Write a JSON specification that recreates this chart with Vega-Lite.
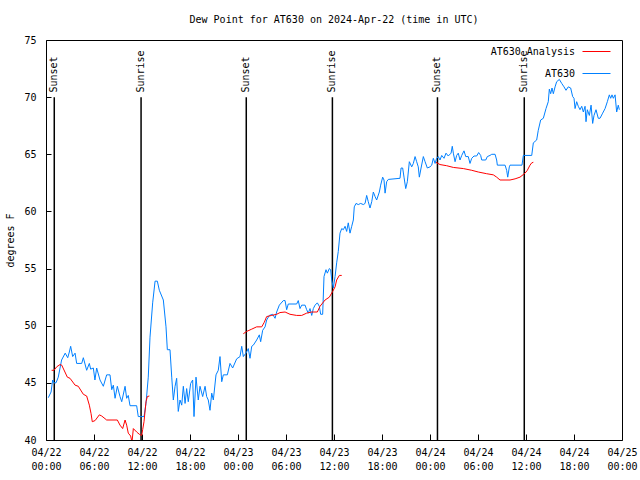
{
  "$schema": "https://vega.github.io/schema/vega-lite/v6.json",
  "width": 576,
  "height": 400,
  "autosize": "none",
  "padding": {"left": 46, "top": 40, "right": 18, "bottom": 40},
  "background": "white",
  "title": {"text": "Dew Point for AT630 on 2024-Apr-22 (time in UTC)", "fontSize": 10, "font": "DejaVu Sans Mono", "fontWeight": "normal", "frame": "group", "offset": 10, "color": "black"},
  "config": {
    "font": "DejaVu Sans Mono",
    "view": {"stroke": "black", "strokeWidth": 1},
    "axis": {"labelFont": "DejaVu Sans Mono", "labelFontSize": 10, "labelColor": "black", "titleFont": "DejaVu Sans Mono", "titleFontSize": 10, "titleFontWeight": "normal", "titleColor": "black", "domain": false, "grid": false, "tickColor": "black", "tickWidth": 1}
  },
  "datasets": {
    "obs": [
      {"s":"AT630","g":"b","t":"2024-04-22T00:17:00Z","v":43.7},
      {"s":"AT630","g":"b","t":"2024-04-22T00:38:00Z","v":44.2},
      {"s":"AT630","g":"b","t":"2024-04-22T00:50:00Z","v":45.25},
      {"s":"AT630","g":"b","t":"2024-04-22T01:00:00Z","v":45.0},
      {"s":"AT630","g":"b","t":"2024-04-22T01:15:00Z","v":45.0},
      {"s":"AT630","g":"b","t":"2024-04-22T01:32:00Z","v":45.5},
      {"s":"AT630","g":"b","t":"2024-04-22T01:57:00Z","v":47.0},
      {"s":"AT630","g":"b","t":"2024-04-22T02:24:00Z","v":47.6},
      {"s":"AT630","g":"b","t":"2024-04-22T02:43:00Z","v":47.2},
      {"s":"AT630","g":"b","t":"2024-04-22T02:55:00Z","v":47.7},
      {"s":"AT630","g":"b","t":"2024-04-22T03:05:00Z","v":48.2},
      {"s":"AT630","g":"b","t":"2024-04-22T03:20:00Z","v":47.3},
      {"s":"AT630","g":"b","t":"2024-04-22T03:38:00Z","v":47.6},
      {"s":"AT630","g":"b","t":"2024-04-22T03:50:00Z","v":46.7},
      {"s":"AT630","g":"b","t":"2024-04-22T04:28:00Z","v":46.7},
      {"s":"AT630","g":"b","t":"2024-04-22T04:40:00Z","v":47.2},
      {"s":"AT630","g":"b","t":"2024-04-22T05:05:00Z","v":46.1},
      {"s":"AT630","g":"b","t":"2024-04-22T05:25:00Z","v":46.7},
      {"s":"AT630","g":"b","t":"2024-04-22T05:35:00Z","v":46.2},
      {"s":"AT630","g":"b","t":"2024-04-22T05:55:00Z","v":46.3},
      {"s":"AT630","g":"b","t":"2024-04-22T06:07:00Z","v":45.25},
      {"s":"AT630","g":"b","t":"2024-04-22T06:20:00Z","v":46.3},
      {"s":"AT630","g":"b","t":"2024-04-22T06:45:00Z","v":45.25},
      {"s":"AT630","g":"b","t":"2024-04-22T07:10:00Z","v":44.7},
      {"s":"AT630","g":"b","t":"2024-04-22T07:35:00Z","v":45.7},
      {"s":"AT630","g":"b","t":"2024-04-22T08:00:00Z","v":45.7},
      {"s":"AT630","g":"b","t":"2024-04-22T08:13:00Z","v":44.4},
      {"s":"AT630","g":"b","t":"2024-04-22T08:25:00Z","v":44.8},
      {"s":"AT630","g":"b","t":"2024-04-22T08:38:00Z","v":43.65},
      {"s":"AT630","g":"b","t":"2024-04-22T08:55:00Z","v":44.7},
      {"s":"AT630","g":"b","t":"2024-04-22T09:15:00Z","v":43.8},
      {"s":"AT630","g":"b","t":"2024-04-22T09:28:00Z","v":43.35},
      {"s":"AT630","g":"b","t":"2024-04-22T09:53:00Z","v":44.7},
      {"s":"AT630","g":"b","t":"2024-04-22T10:05:00Z","v":43.65},
      {"s":"AT630","g":"b","t":"2024-04-22T10:17:00Z","v":43.9},
      {"s":"AT630","g":"b","t":"2024-04-22T10:30:00Z","v":43.0},
      {"s":"AT630","g":"b","t":"2024-04-22T11:20:00Z","v":43.0},
      {"s":"AT630","g":"b","t":"2024-04-22T11:32:00Z","v":42.05},
      {"s":"AT630","g":"b","t":"2024-04-22T12:15:00Z","v":42.05},
      {"s":"AT630","g":"b","t":"2024-04-22T12:30:00Z","v":43.2},
      {"s":"AT630","g":"b","t":"2024-04-22T12:47:00Z","v":45.5},
      {"s":"AT630","g":"b","t":"2024-04-22T13:00:00Z","v":49.0},
      {"s":"AT630","g":"b","t":"2024-04-22T13:20:00Z","v":52.0},
      {"s":"AT630","g":"b","t":"2024-04-22T13:38:00Z","v":53.9},
      {"s":"AT630","g":"b","t":"2024-04-22T13:55:00Z","v":53.9},
      {"s":"AT630","g":"b","t":"2024-04-22T14:10:00Z","v":53.1},
      {"s":"AT630","g":"b","t":"2024-04-22T14:40:00Z","v":52.25},
      {"s":"AT630","g":"b","t":"2024-04-22T15:00:00Z","v":49.9},
      {"s":"AT630","g":"b","t":"2024-04-22T15:10:00Z","v":47.9},
      {"s":"AT630","g":"b","t":"2024-04-22T15:30:00Z","v":47.9},
      {"s":"AT630","g":"b","t":"2024-04-22T15:43:00Z","v":45.5},
      {"s":"AT630","g":"b","t":"2024-04-22T15:55:00Z","v":43.5},
      {"s":"AT630","g":"b","t":"2024-04-22T16:08:00Z","v":44.7},
      {"s":"AT630","g":"b","t":"2024-04-22T16:20:00Z","v":45.4},
      {"s":"AT630","g":"b","t":"2024-04-22T16:32:00Z","v":42.5},
      {"s":"AT630","g":"b","t":"2024-04-22T16:45:00Z","v":43.5},
      {"s":"AT630","g":"b","t":"2024-04-22T16:58:00Z","v":43.05},
      {"s":"AT630","g":"b","t":"2024-04-22T17:10:00Z","v":44.7},
      {"s":"AT630","g":"b","t":"2024-04-22T17:23:00Z","v":43.2},
      {"s":"AT630","g":"b","t":"2024-04-22T17:35:00Z","v":44.5},
      {"s":"AT630","g":"b","t":"2024-04-22T17:47:00Z","v":43.35},
      {"s":"AT630","g":"b","t":"2024-04-22T18:05:00Z","v":44.95},
      {"s":"AT630","g":"b","t":"2024-04-22T18:20:00Z","v":45.25},
      {"s":"AT630","g":"b","t":"2024-04-22T18:30:00Z","v":42.05},
      {"s":"AT630","g":"b","t":"2024-04-22T18:45:00Z","v":45.5},
      {"s":"AT630","g":"b","t":"2024-04-22T19:02:00Z","v":43.5},
      {"s":"AT630","g":"b","t":"2024-04-22T19:15:00Z","v":44.7},
      {"s":"AT630","g":"b","t":"2024-04-22T19:35:00Z","v":43.8},
      {"s":"AT630","g":"b","t":"2024-04-22T19:53:00Z","v":44.7},
      {"s":"AT630","g":"b","t":"2024-04-22T20:05:00Z","v":43.8},
      {"s":"AT630","g":"b","t":"2024-04-22T20:17:00Z","v":43.5},
      {"s":"AT630","g":"b","t":"2024-04-22T20:30:00Z","v":42.6},
      {"s":"AT630","g":"b","t":"2024-04-22T20:43:00Z","v":44.1},
      {"s":"AT630","g":"b","t":"2024-04-22T20:55:00Z","v":43.5},
      {"s":"AT630","g":"b","t":"2024-04-22T21:15:00Z","v":45.7},
      {"s":"AT630","g":"b","t":"2024-04-22T21:32:00Z","v":46.1},
      {"s":"AT630","g":"b","t":"2024-04-22T21:45:00Z","v":47.3},
      {"s":"AT630","g":"b","t":"2024-04-22T21:58:00Z","v":45.1},
      {"s":"AT630","g":"b","t":"2024-04-22T22:10:00Z","v":45.7},
      {"s":"AT630","g":"b","t":"2024-04-22T22:40:00Z","v":45.7},
      {"s":"AT630","g":"b","t":"2024-04-22T23:00:00Z","v":46.7},
      {"s":"AT630","g":"b","t":"2024-04-22T23:20:00Z","v":46.3},
      {"s":"AT630","g":"b","t":"2024-04-22T23:50:00Z","v":47.1},
      {"s":"AT630","g":"b","t":"2024-04-23T00:15:00Z","v":47.3},
      {"s":"AT630","g":"b","t":"2024-04-23T00:28:00Z","v":48.2},
      {"s":"AT630","g":"b","t":"2024-04-23T00:40:00Z","v":47.3},
      {"s":"AT630","g":"b","t":"2024-04-23T01:00:00Z","v":47.6},
      {"s":"AT630","g":"b","t":"2024-04-23T01:17:00Z","v":48.0},
      {"s":"AT630","g":"b","t":"2024-04-23T01:30:00Z","v":47.15},
      {"s":"AT630","g":"b","t":"2024-04-23T01:43:00Z","v":48.2},
      {"s":"AT630","g":"b","t":"2024-04-23T01:55:00Z","v":48.3},
      {"s":"AT630","g":"b","t":"2024-04-23T02:20:00Z","v":48.75},
      {"s":"AT630","g":"b","t":"2024-04-23T02:40:00Z","v":49.2},
      {"s":"AT630","g":"b","t":"2024-04-23T02:50:00Z","v":48.6},
      {"s":"AT630","g":"b","t":"2024-04-23T03:05:00Z","v":49.6},
      {"s":"AT630","g":"b","t":"2024-04-23T03:23:00Z","v":49.9},
      {"s":"AT630","g":"b","t":"2024-04-23T03:35:00Z","v":50.5},
      {"s":"AT630","g":"b","t":"2024-04-23T03:55:00Z","v":50.9},
      {"s":"AT630","g":"b","t":"2024-04-23T04:20:00Z","v":51.0},
      {"s":"AT630","g":"b","t":"2024-04-23T04:38:00Z","v":50.65},
      {"s":"AT630","g":"b","t":"2024-04-23T04:50:00Z","v":51.2},
      {"s":"AT630","g":"b","t":"2024-04-23T05:10:00Z","v":51.8},
      {"s":"AT630","g":"b","t":"2024-04-23T05:40:00Z","v":52.2},
      {"s":"AT630","g":"b","t":"2024-04-23T05:53:00Z","v":52.2},
      {"s":"AT630","g":"b","t":"2024-04-23T06:05:00Z","v":51.4},
      {"s":"AT630","g":"b","t":"2024-04-23T06:17:00Z","v":51.9},
      {"s":"AT630","g":"b","t":"2024-04-23T07:20:00Z","v":51.9},
      {"s":"AT630","g":"b","t":"2024-04-23T07:32:00Z","v":52.2},
      {"s":"AT630","g":"b","t":"2024-04-23T07:45:00Z","v":51.5},
      {"s":"AT630","g":"b","t":"2024-04-23T07:58:00Z","v":51.8},
      {"s":"AT630","g":"b","t":"2024-04-23T08:23:00Z","v":51.8},
      {"s":"AT630","g":"b","t":"2024-04-23T08:35:00Z","v":51.4},
      {"s":"AT630","g":"b","t":"2024-04-23T08:47:00Z","v":51.1},
      {"s":"AT630","g":"b","t":"2024-04-23T09:00:00Z","v":51.5},
      {"s":"AT630","g":"b","t":"2024-04-23T09:13:00Z","v":50.9},
      {"s":"AT630","g":"b","t":"2024-04-23T09:25:00Z","v":51.5},
      {"s":"AT630","g":"b","t":"2024-04-23T09:38:00Z","v":51.8},
      {"s":"AT630","g":"b","t":"2024-04-23T09:55:00Z","v":52.0},
      {"s":"AT630","g":"b","t":"2024-04-23T10:10:00Z","v":51.7},
      {"s":"AT630","g":"b","t":"2024-04-23T10:20:00Z","v":51.0},
      {"s":"AT630","g":"b","t":"2024-04-23T10:35:00Z","v":51.0},
      {"s":"AT630","g":"b","t":"2024-04-23T10:45:00Z","v":54.3},
      {"s":"AT630","g":"b","t":"2024-04-23T11:00:00Z","v":54.9},
      {"s":"AT630","g":"b","t":"2024-04-23T11:10:00Z","v":54.6},
      {"s":"AT630","g":"b","t":"2024-04-23T11:25:00Z","v":55.0},
      {"s":"AT630","g":"b","t":"2024-04-23T11:35:00Z","v":54.9},
      {"s":"AT630","g":"b","t":"2024-04-23T11:43:00Z","v":54.0},
      {"s":"AT630","g":"b","t":"2024-04-23T11:55:00Z","v":53.3},
      {"s":"AT630","g":"b","t":"2024-04-23T12:08:00Z","v":54.3},
      {"s":"AT630","g":"b","t":"2024-04-23T12:20:00Z","v":55.5},
      {"s":"AT630","g":"b","t":"2024-04-23T12:32:00Z","v":56.5},
      {"s":"AT630","g":"b","t":"2024-04-23T12:45:00Z","v":58.1},
      {"s":"AT630","g":"b","t":"2024-04-23T12:58:00Z","v":58.5},
      {"s":"AT630","g":"b","t":"2024-04-23T13:10:00Z","v":58.4},
      {"s":"AT630","g":"b","t":"2024-04-23T13:23:00Z","v":58.7},
      {"s":"AT630","g":"b","t":"2024-04-23T13:35:00Z","v":58.25},
      {"s":"AT630","g":"b","t":"2024-04-23T13:47:00Z","v":59.0},
      {"s":"AT630","g":"b","t":"2024-04-23T14:00:00Z","v":58.1},
      {"s":"AT630","g":"b","t":"2024-04-23T14:13:00Z","v":58.7},
      {"s":"AT630","g":"b","t":"2024-04-23T14:25:00Z","v":59.25},
      {"s":"AT630","g":"b","t":"2024-04-23T14:32:00Z","v":60.4},
      {"s":"AT630","g":"b","t":"2024-04-23T14:45:00Z","v":60.7},
      {"s":"AT630","g":"b","t":"2024-04-23T15:02:00Z","v":60.6},
      {"s":"AT630","g":"b","t":"2024-04-23T15:20:00Z","v":60.7},
      {"s":"AT630","g":"b","t":"2024-04-23T15:40:00Z","v":60.6},
      {"s":"AT630","g":"b","t":"2024-04-23T15:53:00Z","v":60.7},
      {"s":"AT630","g":"b","t":"2024-04-23T16:05:00Z","v":61.4},
      {"s":"AT630","g":"b","t":"2024-04-23T16:17:00Z","v":60.85},
      {"s":"AT630","g":"b","t":"2024-04-23T16:30:00Z","v":60.3},
      {"s":"AT630","g":"b","t":"2024-04-23T16:43:00Z","v":60.85},
      {"s":"AT630","g":"b","t":"2024-04-23T16:55:00Z","v":61.7},
      {"s":"AT630","g":"b","t":"2024-04-23T17:08:00Z","v":61.3},
      {"s":"AT630","g":"b","t":"2024-04-23T17:20:00Z","v":61.0},
      {"s":"AT630","g":"b","t":"2024-04-23T17:40:00Z","v":61.7},
      {"s":"AT630","g":"b","t":"2024-04-23T17:50:00Z","v":62.3},
      {"s":"AT630","g":"b","t":"2024-04-23T18:05:00Z","v":63.0},
      {"s":"AT630","g":"b","t":"2024-04-23T18:15:00Z","v":62.75},
      {"s":"AT630","g":"b","t":"2024-04-23T18:23:00Z","v":61.6},
      {"s":"AT630","g":"b","t":"2024-04-23T18:35:00Z","v":62.6},
      {"s":"AT630","g":"b","t":"2024-04-23T18:47:00Z","v":62.8},
      {"s":"AT630","g":"b","t":"2024-04-23T20:15:00Z","v":62.9},
      {"s":"AT630","g":"b","t":"2024-04-23T20:23:00Z","v":63.8},
      {"s":"AT630","g":"b","t":"2024-04-23T20:35:00Z","v":63.8},
      {"s":"AT630","g":"b","t":"2024-04-23T20:45:00Z","v":63.0},
      {"s":"AT630","g":"b","t":"2024-04-23T20:58:00Z","v":62.0},
      {"s":"AT630","g":"b","t":"2024-04-23T21:10:00Z","v":62.6},
      {"s":"AT630","g":"b","t":"2024-04-23T21:25:00Z","v":64.35},
      {"s":"AT630","g":"b","t":"2024-04-23T21:43:00Z","v":63.9},
      {"s":"AT630","g":"b","t":"2024-04-23T21:55:00Z","v":64.2},
      {"s":"AT630","g":"b","t":"2024-04-23T22:08:00Z","v":64.8},
      {"s":"AT630","g":"b","t":"2024-04-23T22:20:00Z","v":64.35},
      {"s":"AT630","g":"b","t":"2024-04-23T22:32:00Z","v":63.9},
      {"s":"AT630","g":"b","t":"2024-04-23T22:40:00Z","v":63.0},
      {"s":"AT630","g":"b","t":"2024-04-23T22:53:00Z","v":63.8},
      {"s":"AT630","g":"b","t":"2024-04-23T23:10:00Z","v":64.8},
      {"s":"AT630","g":"b","t":"2024-04-23T23:23:00Z","v":64.35},
      {"s":"AT630","g":"b","t":"2024-04-23T23:40:00Z","v":63.8},
      {"s":"AT630","g":"b","t":"2024-04-24T00:00:00Z","v":63.9},
      {"s":"AT630","g":"b","t":"2024-04-24T00:13:00Z","v":64.05},
      {"s":"AT630","g":"b","t":"2024-04-24T00:25:00Z","v":64.65},
      {"s":"AT630","g":"b","t":"2024-04-24T00:38:00Z","v":64.2},
      {"s":"AT630","g":"b","t":"2024-04-24T00:50:00Z","v":64.65},
      {"s":"AT630","g":"b","t":"2024-04-24T01:02:00Z","v":64.8},
      {"s":"AT630","g":"b","t":"2024-04-24T01:15:00Z","v":64.5},
      {"s":"AT630","g":"b","t":"2024-04-24T01:28:00Z","v":64.9},
      {"s":"AT630","g":"b","t":"2024-04-24T01:45:00Z","v":64.65},
      {"s":"AT630","g":"b","t":"2024-04-24T02:00:00Z","v":65.1},
      {"s":"AT630","g":"b","t":"2024-04-24T02:17:00Z","v":64.85},
      {"s":"AT630","g":"b","t":"2024-04-24T02:38:00Z","v":65.1},
      {"s":"AT630","g":"b","t":"2024-04-24T02:47:00Z","v":65.7},
      {"s":"AT630","g":"b","t":"2024-04-24T02:55:00Z","v":65.1},
      {"s":"AT630","g":"b","t":"2024-04-24T03:08:00Z","v":64.35},
      {"s":"AT630","g":"b","t":"2024-04-24T03:20:00Z","v":64.9},
      {"s":"AT630","g":"b","t":"2024-04-24T03:32:00Z","v":65.1},
      {"s":"AT630","g":"b","t":"2024-04-24T03:45:00Z","v":64.5},
      {"s":"AT630","g":"b","t":"2024-04-24T03:58:00Z","v":64.9},
      {"s":"AT630","g":"b","t":"2024-04-24T04:15:00Z","v":65.3},
      {"s":"AT630","g":"b","t":"2024-04-24T04:28:00Z","v":64.8},
      {"s":"AT630","g":"b","t":"2024-04-24T04:47:00Z","v":64.8},
      {"s":"AT630","g":"b","t":"2024-04-24T05:00:00Z","v":64.2},
      {"s":"AT630","g":"b","t":"2024-04-24T05:13:00Z","v":64.65},
      {"s":"AT630","g":"b","t":"2024-04-24T05:30:00Z","v":64.85},
      {"s":"AT630","g":"b","t":"2024-04-24T05:50:00Z","v":64.85},
      {"s":"AT630","g":"b","t":"2024-04-24T06:05:00Z","v":65.15},
      {"s":"AT630","g":"b","t":"2024-04-24T06:20:00Z","v":64.9},
      {"s":"AT630","g":"b","t":"2024-04-24T06:28:00Z","v":64.5},
      {"s":"AT630","g":"b","t":"2024-04-24T06:58:00Z","v":64.5},
      {"s":"AT630","g":"b","t":"2024-04-24T07:10:00Z","v":64.8},
      {"s":"AT630","g":"b","t":"2024-04-24T07:30:00Z","v":64.9},
      {"s":"AT630","g":"b","t":"2024-04-24T07:43:00Z","v":65.0},
      {"s":"AT630","g":"b","t":"2024-04-24T08:08:00Z","v":65.0},
      {"s":"AT630","g":"b","t":"2024-04-24T08:20:00Z","v":64.5},
      {"s":"AT630","g":"b","t":"2024-04-24T08:25:00Z","v":64.05},
      {"s":"AT630","g":"b","t":"2024-04-24T09:23:00Z","v":64.05},
      {"s":"AT630","g":"b","t":"2024-04-24T09:35:00Z","v":63.6},
      {"s":"AT630","g":"b","t":"2024-04-24T09:43:00Z","v":63.0},
      {"s":"AT630","g":"b","t":"2024-04-24T09:55:00Z","v":63.9},
      {"s":"AT630","g":"b","t":"2024-04-24T10:00:00Z","v":64.05},
      {"s":"AT630","g":"b","t":"2024-04-24T11:30:00Z","v":64.05},
      {"s":"AT630","g":"b","t":"2024-04-24T11:40:00Z","v":64.9},
      {"s":"AT630","g":"b","t":"2024-04-24T12:43:00Z","v":64.9},
      {"s":"AT630","g":"b","t":"2024-04-24T12:55:00Z","v":66.0},
      {"s":"AT630","g":"b","t":"2024-04-24T13:20:00Z","v":66.25},
      {"s":"AT630","g":"b","t":"2024-04-24T13:32:00Z","v":67.1},
      {"s":"AT630","g":"b","t":"2024-04-24T13:50:00Z","v":68.0},
      {"s":"AT630","g":"b","t":"2024-04-24T14:10:00Z","v":68.15},
      {"s":"AT630","g":"b","t":"2024-04-24T14:30:00Z","v":69.0},
      {"s":"AT630","g":"b","t":"2024-04-24T14:47:00Z","v":69.6},
      {"s":"AT630","g":"b","t":"2024-04-24T14:55:00Z","v":70.7},
      {"s":"AT630","g":"b","t":"2024-04-24T15:05:00Z","v":70.3},
      {"s":"AT630","g":"b","t":"2024-04-24T15:15:00Z","v":70.8},
      {"s":"AT630","g":"b","t":"2024-04-24T15:25:00Z","v":70.3},
      {"s":"AT630","g":"b","t":"2024-04-24T15:38:00Z","v":70.9},
      {"s":"AT630","g":"b","t":"2024-04-24T15:50:00Z","v":71.35},
      {"s":"AT630","g":"b","t":"2024-04-24T16:10:00Z","v":71.55},
      {"s":"AT630","g":"b","t":"2024-04-24T16:28:00Z","v":71.2},
      {"s":"AT630","g":"b","t":"2024-04-24T16:45:00Z","v":70.9},
      {"s":"AT630","g":"b","t":"2024-04-24T17:00:00Z","v":70.6},
      {"s":"AT630","g":"b","t":"2024-04-24T17:17:00Z","v":70.9},
      {"s":"AT630","g":"b","t":"2024-04-24T17:35:00Z","v":70.8},
      {"s":"AT630","g":"b","t":"2024-04-24T17:50:00Z","v":70.05},
      {"s":"AT630","g":"b","t":"2024-04-24T18:00:00Z","v":69.9},
      {"s":"AT630","g":"b","t":"2024-04-24T18:08:00Z","v":69.0},
      {"s":"AT630","g":"b","t":"2024-04-24T18:20:00Z","v":69.6},
      {"s":"AT630","g":"b","t":"2024-04-24T18:32:00Z","v":69.2},
      {"s":"AT630","g":"b","t":"2024-04-24T18:45:00Z","v":68.9},
      {"s":"AT630","g":"b","t":"2024-04-24T18:58:00Z","v":69.2},
      {"s":"AT630","g":"b","t":"2024-04-24T19:10:00Z","v":68.7},
      {"s":"AT630","g":"b","t":"2024-04-24T19:23:00Z","v":69.2},
      {"s":"AT630","g":"b","t":"2024-04-24T19:30:00Z","v":67.85},
      {"s":"AT630","g":"b","t":"2024-04-24T19:40:00Z","v":68.9},
      {"s":"AT630","g":"b","t":"2024-04-24T19:55:00Z","v":68.4},
      {"s":"AT630","g":"b","t":"2024-04-24T20:08:00Z","v":69.3},
      {"s":"AT630","g":"b","t":"2024-04-24T20:20:00Z","v":67.7},
      {"s":"AT630","g":"b","t":"2024-04-24T20:30:00Z","v":68.4},
      {"s":"AT630","g":"b","t":"2024-04-24T20:45:00Z","v":68.9},
      {"s":"AT630","g":"b","t":"2024-04-24T21:02:00Z","v":68.15},
      {"s":"AT630","g":"b","t":"2024-04-24T21:15:00Z","v":68.15},
      {"s":"AT630","g":"b","t":"2024-04-24T21:35:00Z","v":68.6},
      {"s":"AT630","g":"b","t":"2024-04-24T21:53:00Z","v":69.0},
      {"s":"AT630","g":"b","t":"2024-04-24T22:10:00Z","v":69.6},
      {"s":"AT630","g":"b","t":"2024-04-24T22:25:00Z","v":70.2},
      {"s":"AT630","g":"b","t":"2024-04-24T22:35:00Z","v":69.9},
      {"s":"AT630","g":"b","t":"2024-04-24T22:45:00Z","v":70.2},
      {"s":"AT630","g":"b","t":"2024-04-24T22:55:00Z","v":69.9},
      {"s":"AT630","g":"b","t":"2024-04-24T23:08:00Z","v":70.2},
      {"s":"AT630","g":"b","t":"2024-04-24T23:20:00Z","v":68.7},
      {"s":"AT630","g":"b","t":"2024-04-24T23:32:00Z","v":69.3},
      {"s":"AT630","g":"b","t":"2024-04-24T23:40:00Z","v":68.9},
      {"s":"AT630 Analysis","g":"a1","t":"2024-04-22T00:42:00Z","v":46.1},
      {"s":"AT630 Analysis","g":"a1","t":"2024-04-22T01:00:00Z","v":46.1},
      {"s":"AT630 Analysis","g":"a1","t":"2024-04-22T01:20:00Z","v":46.4},
      {"s":"AT630 Analysis","g":"a1","t":"2024-04-22T01:45:00Z","v":46.6},
      {"s":"AT630 Analysis","g":"a1","t":"2024-04-22T01:58:00Z","v":46.55},
      {"s":"AT630 Analysis","g":"a1","t":"2024-04-22T02:40:00Z","v":45.5},
      {"s":"AT630 Analysis","g":"a1","t":"2024-04-22T03:00:00Z","v":45.4},
      {"s":"AT630 Analysis","g":"a1","t":"2024-04-22T03:38:00Z","v":44.8},
      {"s":"AT630 Analysis","g":"a1","t":"2024-04-22T04:02:00Z","v":44.7},
      {"s":"AT630 Analysis","g":"a1","t":"2024-04-22T04:40:00Z","v":44.0},
      {"s":"AT630 Analysis","g":"a1","t":"2024-04-22T05:05:00Z","v":43.85},
      {"s":"AT630 Analysis","g":"a1","t":"2024-04-22T05:25:00Z","v":43.05},
      {"s":"AT630 Analysis","g":"a1","t":"2024-04-22T05:38:00Z","v":42.3},
      {"s":"AT630 Analysis","g":"a1","t":"2024-04-22T05:47:00Z","v":41.6},
      {"s":"AT630 Analysis","g":"a1","t":"2024-04-22T06:08:00Z","v":41.7},
      {"s":"AT630 Analysis","g":"a1","t":"2024-04-22T06:40:00Z","v":42.2},
      {"s":"AT630 Analysis","g":"a1","t":"2024-04-22T06:58:00Z","v":42.1},
      {"s":"AT630 Analysis","g":"a1","t":"2024-04-22T07:35:00Z","v":41.75},
      {"s":"AT630 Analysis","g":"a1","t":"2024-04-22T08:55:00Z","v":41.75},
      {"s":"AT630 Analysis","g":"a1","t":"2024-04-22T09:15:00Z","v":41.3},
      {"s":"AT630 Analysis","g":"a1","t":"2024-04-22T09:35:00Z","v":41.0},
      {"s":"AT630 Analysis","g":"a1","t":"2024-04-22T09:53:00Z","v":41.75},
      {"s":"AT630 Analysis","g":"a1","t":"2024-04-22T10:05:00Z","v":41.3},
      {"s":"AT630 Analysis","g":"a1","t":"2024-04-22T10:17:00Z","v":40.6},
      {"s":"AT630 Analysis","g":"a1","t":"2024-04-22T10:35:00Z","v":40.35},
      {"s":"AT630 Analysis","g":"a1","t":"2024-04-22T10:45:00Z","v":39.8},
      {"s":"AT630 Analysis","g":"a1","t":"2024-04-22T10:55:00Z","v":41.0},
      {"s":"AT630 Analysis","g":"a1","t":"2024-04-22T11:20:00Z","v":40.7},
      {"s":"AT630 Analysis","g":"a1","t":"2024-04-22T11:40:00Z","v":40.5},
      {"s":"AT630 Analysis","g":"a1","t":"2024-04-22T11:58:00Z","v":40.4},
      {"s":"AT630 Analysis","g":"a1","t":"2024-04-22T12:05:00Z","v":40.9},
      {"s":"AT630 Analysis","g":"a1","t":"2024-04-22T12:15:00Z","v":41.6},
      {"s":"AT630 Analysis","g":"a1","t":"2024-04-22T12:30:00Z","v":43.35},
      {"s":"AT630 Analysis","g":"a1","t":"2024-04-22T12:40:00Z","v":43.8},
      {"s":"AT630 Analysis","g":"a1","t":"2024-04-22T12:55:00Z","v":43.85},
      {"s":"AT630 Analysis","g":"a2","t":"2024-04-23T00:40:00Z","v":49.3},
      {"s":"AT630 Analysis","g":"a2","t":"2024-04-23T01:05:00Z","v":49.5},
      {"s":"AT630 Analysis","g":"a2","t":"2024-04-23T01:43:00Z","v":49.7},
      {"s":"AT630 Analysis","g":"a2","t":"2024-04-23T02:20:00Z","v":49.9},
      {"s":"AT630 Analysis","g":"a2","t":"2024-04-23T02:58:00Z","v":49.9},
      {"s":"AT630 Analysis","g":"a2","t":"2024-04-23T03:17:00Z","v":50.3},
      {"s":"AT630 Analysis","g":"a2","t":"2024-04-23T03:35:00Z","v":50.8},
      {"s":"AT630 Analysis","g":"a2","t":"2024-04-23T04:13:00Z","v":50.9},
      {"s":"AT630 Analysis","g":"a2","t":"2024-04-23T04:50:00Z","v":51.0},
      {"s":"AT630 Analysis","g":"a2","t":"2024-04-23T05:15:00Z","v":51.15},
      {"s":"AT630 Analysis","g":"a2","t":"2024-04-23T05:53:00Z","v":51.2},
      {"s":"AT630 Analysis","g":"a2","t":"2024-04-23T06:30:00Z","v":51.0},
      {"s":"AT630 Analysis","g":"a2","t":"2024-04-23T07:20:00Z","v":50.9},
      {"s":"AT630 Analysis","g":"a2","t":"2024-04-23T07:58:00Z","v":50.9},
      {"s":"AT630 Analysis","g":"a2","t":"2024-04-23T08:35:00Z","v":51.1},
      {"s":"AT630 Analysis","g":"a2","t":"2024-04-23T09:13:00Z","v":51.2},
      {"s":"AT630 Analysis","g":"a2","t":"2024-04-23T09:55:00Z","v":51.2},
      {"s":"AT630 Analysis","g":"a2","t":"2024-04-23T10:15:00Z","v":51.7},
      {"s":"AT630 Analysis","g":"a2","t":"2024-04-23T10:53:00Z","v":52.25},
      {"s":"AT630 Analysis","g":"a2","t":"2024-04-23T11:25:00Z","v":52.5},
      {"s":"AT630 Analysis","g":"a2","t":"2024-04-23T11:50:00Z","v":53.0},
      {"s":"AT630 Analysis","g":"a2","t":"2024-04-23T12:08:00Z","v":53.4},
      {"s":"AT630 Analysis","g":"a2","t":"2024-04-23T12:20:00Z","v":54.0},
      {"s":"AT630 Analysis","g":"a2","t":"2024-04-23T12:40:00Z","v":54.4},
      {"s":"AT630 Analysis","g":"a2","t":"2024-04-23T12:58:00Z","v":54.4},
      {"s":"AT630 Analysis","g":"a3","t":"2024-04-24T00:45:00Z","v":64.3},
      {"s":"AT630 Analysis","g":"a3","t":"2024-04-24T01:15:00Z","v":64.1},
      {"s":"AT630 Analysis","g":"a3","t":"2024-04-24T02:05:00Z","v":64.0},
      {"s":"AT630 Analysis","g":"a3","t":"2024-04-24T02:55:00Z","v":63.85},
      {"s":"AT630 Analysis","g":"a3","t":"2024-04-24T04:10:00Z","v":63.75},
      {"s":"AT630 Analysis","g":"a3","t":"2024-04-24T05:13:00Z","v":63.6},
      {"s":"AT630 Analysis","g":"a3","t":"2024-04-24T06:02:00Z","v":63.45},
      {"s":"AT630 Analysis","g":"a3","t":"2024-04-24T07:05:00Z","v":63.3},
      {"s":"AT630 Analysis","g":"a3","t":"2024-04-24T07:55:00Z","v":63.2},
      {"s":"AT630 Analysis","g":"a3","t":"2024-04-24T08:20:00Z","v":63.0},
      {"s":"AT630 Analysis","g":"a3","t":"2024-04-24T08:45:00Z","v":62.75},
      {"s":"AT630 Analysis","g":"a3","t":"2024-04-24T10:00:00Z","v":62.75},
      {"s":"AT630 Analysis","g":"a3","t":"2024-04-24T10:38:00Z","v":62.85},
      {"s":"AT630 Analysis","g":"a3","t":"2024-04-24T11:15:00Z","v":63.0},
      {"s":"AT630 Analysis","g":"a3","t":"2024-04-24T11:53:00Z","v":63.35},
      {"s":"AT630 Analysis","g":"a3","t":"2024-04-24T12:10:00Z","v":63.6},
      {"s":"AT630 Analysis","g":"a3","t":"2024-04-24T12:30:00Z","v":64.05},
      {"s":"AT630 Analysis","g":"a3","t":"2024-04-24T12:43:00Z","v":64.25},
      {"s":"AT630 Analysis","g":"a3","t":"2024-04-24T12:55:00Z","v":64.3}
    ],
    "sun": [
      {"t":"2024-04-22T01:02:00Z","label":"Sunset"},
      {"t":"2024-04-22T11:53:00Z","label":"Sunrise"},
      {"t":"2024-04-23T01:02:00Z","label":"Sunset"},
      {"t":"2024-04-23T11:48:00Z","label":"Sunrise"},
      {"t":"2024-04-24T00:56:00Z","label":"Sunset"},
      {"t":"2024-04-24T11:47:00Z","label":"Sunrise"}
    ]
  },
  "layer": [
    {
      "data": {"name": "sun"},
      "mark": {"type": "rule", "color": "black", "strokeWidth": 1.5},
      "encoding": {
        "x": {"field": "t", "type": "temporal",
              "scale": {"type": "utc", "domain": [1713744000000, 1714003200000]},
              "axis": {"orient": "bottom", "title": null, "offset": -6, "tickSize": 6,
                       "values": [1713744000000, 1713765600000, 1713787200000, 1713808800000, 1713830400000, 1713852000000, 1713873600000, 1713895200000, 1713916800000, 1713938400000, 1713960000000, 1713981600000, 1714003200000],
                       "labelExpr": "[utcFormat(datum.value, '%m/%d'), utcFormat(datum.value, '%H:%M')]",
                       "labelOverlap": false, "labelFlush": false, "labelPadding": 7, "labelLineHeight": 14, "labelBaseline": "top"}},
        "y": {"datum": 40, "type": "quantitative", "scale": {"domain": [40, 75], "nice": false, "zero": false},
              "axis": {"orient": "left", "title": "degrees F", "values": [40, 45, 50, 55, 60, 65, 70, 75], "offset": -5, "tickSize": 5, "labelPadding": 10, "titlePadding": 8}},
        "y2": {"datum": 70}
      }
    },
    {
      "data": {"name": "sun"},
      "mark": {"type": "text", "angle": 270, "align": "left", "baseline": "middle", "font": "DejaVu Sans Mono", "fontSize": 10, "color": "black"},
      "encoding": {
        "x": {"field": "t", "type": "temporal"},
        "y": {"datum": 70.4, "type": "quantitative"},
        "text": {"field": "label", "type": "nominal"}
      }
    },
    {
      "data": {"name": "obs"},
      "mark": {"type": "line", "strokeWidth": 1, "clip": true},
      "encoding": {
        "x": {"field": "t", "type": "temporal"},
        "y": {"field": "v", "type": "quantitative"},
        "color": {"field": "s", "type": "nominal",
                  "scale": {"domain": ["AT630 Analysis", "AT630"], "range": ["#ff0000", "#0080ff"]},
                  "legend": {"orient": "none", "legendX": 536, "legendY": -3, "title": null, "symbolType": "stroke", "symbolSize": 784, "symbolStrokeWidth": 1,
                             "labelAlign": "right", "labelOffset": -36, "labelFontSize": 10, "labelColor": "black"}},
        "detail": {"field": "g", "type": "nominal"}
      }
    }
  ]
}
